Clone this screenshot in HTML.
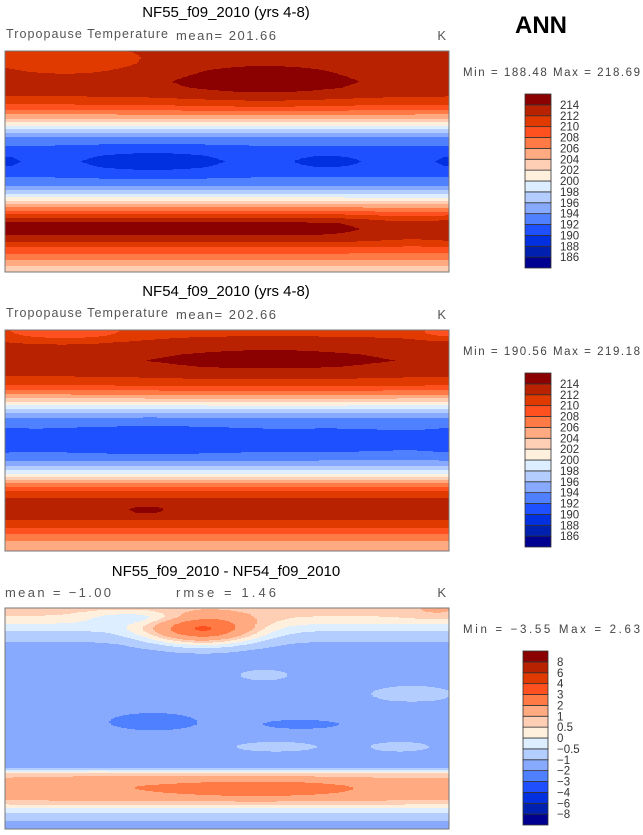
<!DOCTYPE html>
<html><head><meta charset="utf-8"><style>
body{margin:0;background:#fff;width:643px;height:835px;overflow:hidden;font-family:"Liberation Sans",sans-serif}
svg{position:absolute;left:0;top:0}
</style></head><body>
<svg id="fig" width="643" height="835" xmlns="http://www.w3.org/2000/svg">
<g font-family="Liberation Sans, sans-serif">
<text x="226" y="17" font-size="15" text-anchor="middle">NF55_f09_2010 (yrs 4-8)</text>
<text x="6" y="38" font-size="12.5" fill="#555" textLength="162">Tropopause Temperature</text>
<text x="176" y="40" font-size="13" fill="#555" textLength="100">mean= 201.66</text>
<text x="446" y="40" font-size="13" fill="#555" text-anchor="end">K</text>
<text x="541" y="33" font-size="24" font-weight="bold" text-anchor="middle">ANN</text>
<text x="463" y="76" font-size="11.5" fill="#444" textLength="177">Min = 188.48 Max = 218.69</text>

<text x="226" y="296" font-size="15" text-anchor="middle">NF54_f09_2010 (yrs 4-8)</text>
<text x="6" y="317" font-size="12.5" fill="#555" textLength="162">Tropopause Temperature</text>
<text x="176" y="319" font-size="13" fill="#555" textLength="100">mean= 202.66</text>
<text x="446" y="319" font-size="13" fill="#555" text-anchor="end">K</text>
<text x="463" y="355" font-size="11.5" fill="#444" textLength="177">Min = 190.56 Max = 219.18</text>

<text x="226" y="576" font-size="15" text-anchor="middle">NF55_f09_2010 - NF54_f09_2010</text>
<text x="5" y="597" font-size="13" fill="#555" textLength="106">mean =  −1.00</text>
<text x="176" y="597" font-size="13" fill="#555" textLength="100">rmse =   1.46</text>
<text x="446" y="597" font-size="13" fill="#555" text-anchor="end">K</text>
<text x="463" y="633" font-size="11.5" fill="#444" textLength="177">Min =  −3.55 Max =    2.63</text>
</g>
<g id="maps"></g>
</svg>
<script>
const COLORS=["#000090","#0020b0","#0030e0","#1e50ff","#4f80ff","#87aaff","#b4cdff","#dceeff","#fff0dd","#ffcfb5","#ffaa80","#ff7a45","#ff5020","#e03a00","#b82200","#8b0000"];
const tempLevels=[186,188,190,192,194,196,198,200,202,204,206,208,210,212,214];
const diffLevels=[-8,-6,-4,-3,-2,-1,-0.5,0,0.5,1,2,3,4,6,8];
const diffLabels=["-8","-6","-4","-3","-2","-1","-0.5","0","0.5","1","2","3","4","6","8"];
// zonal profiles, 90N to 90S every 5 deg
const profileLats=[90,85,80,75,70,65,60,55,50,45,40,35,30,25,20,15,10,5,0,-5,-10,-15,-20,-25,-30,-35,-40,-45,-50,-55,-60,-65,-70,-75,-80,-85,-90];
const profile1=[212.3,212.4,212.6,213,213.2,213.4,213.2,212.5,211.2,209.5,207,204,200.5,197,194,192.5,191.5,190.8,190.6,190.8,191.5,192.5,194,197,200.5,204.5,208,211.5,214.2,214.6,214,212.3,210,208,206,204,203];
const profile2=[211,211.5,212.5,213,213.4,213.6,213.3,212.5,211.5,210,207.5,204.5,201,197.5,194.5,193,192.2,191.6,191.4,191.6,192.3,193.5,195.5,198.5,202,206,209.5,211.5,212.8,213.3,213,212,210.5,208.5,206.5,205,204.5];
const profile3=[0.7,0.6,0.3,-0.2,-0.6,-0.9,-1.1,-1.2,-1.2,-1.1,-1.2,-1.3,-1.3,-1.3,-1.3,-1.3,-1.4,-1.5,-1.5,-1.5,-1.4,-1.3,-1.3,-1.3,-1.3,-1.4,-1.2,0.6,1.1,1.3,1.3,1.2,0.5,-0.3,-0.8,-1.1,-1.1];
// anomaly blobs: lon, lat, sigmaLon, sigmaLat, amplitude
const blobLon1=[211,50,120,262,0,360,330];
const blobLat1=[66,80,0,0,0,0,-52];
const blobSx1=[55,38,45,22,12,12,30];
const blobSy1=[16,7,9,5,6,6,10];
const blobAmp1=[1.6,-2.4,-1.4,-1.2,-0.9,-0.9,-1.6];
const blobLon2=[215,50,355,115,120,265,0,360];
const blobLat2=[66,87,88,-57,0,0,0,0];
const blobSx2=[75,40,15,14,55,25,12,12];
const blobSy2=[16,6,4,3,9,5,6,6];
const blobAmp2=[1.0,-2.2,-2,1.3,-1.1,-1.1,-0.8,-0.8];
const blobLon3=[160,205,70,120,240,210,330,220,320,350,110];
const blobLat3=[72,-57,-55,-3,-5,35,20,-23,-23,88,82];
const blobSx3=[30,60,50,28,32,14,25,25,18,20,30];
const blobSy3=[8,5,6,6,4,3,5,3,3,5,4];
const blobAmp3=[3.5,1.6,0.4,-1.1,-0.8,0.7,0.7,0.7,0.7,0.4,-1.0];

const NS="http://www.w3.org/2000/svg";
const maps=document.getElementById('maps');
function mk(tag,attrs,parent){const e=document.createElementNS(NS,tag);for(const k in attrs)e.setAttribute(k,attrs[k]);parent.appendChild(e);return e;}
function profileAt(p,lat){const f=(90-lat)/5;const i=Math.min(Math.floor(f),p.length-2);const t=f-i;return p[i]*(1-t)+p[i+1]*t;}
function fieldAt(p,B,lon,lat){let v=profileAt(p,lat);for(let k=0;k<B[0].length;k++){const dx=(lon-B[0][k])/B[2][k],dy=(lat-B[1][k])/B[3][k];v+=B[4][k]*Math.exp(-(dx*dx+dy*dy)/2);}return v;}
function levelIndex(levels,v){let n=0;for(const l of levels)if(v>=l)n++;return n;}
function drawMap(name,x0,y0,w,h,p,B,levels){
  const g=mk('g',{},maps);
  
  
  const cw=2;
  for(let y=0;y<h;y++){
    const lat=90-(y+0.5)/h*180;
    let start=0,cur=-1;
    for(let x=0;x<=w;x+=cw){
      let idx=-2;
      if(x<w){const lon=(x+cw/2)/w*360;idx=levelIndex(levels,fieldAt(p,B,lon,lat));}
      if(idx!==cur){
        if(cur>=0){const r=mk('rect',{x:x0+start,y:y0+y,width:x-start+0.5,height:1.2,fill:COLORS[cur]},g);
          
          }
        start=x;cur=idx;
      }
    }
  }
  const f=mk('rect',{x:x0,y:y0,width:w,height:h,fill:'none',stroke:'#777','stroke-width':1},g);
  
  
}
function drawBar(name,x0,y0,w,h,labels){
  const g=mk('g',{},maps);
  
  
  const bh=h/COLORS.length;
  for(let i=0;i<COLORS.length;i++){
    const r=mk('rect',{x:x0,y:y0+h-(i+1)*bh,width:w,height:bh,fill:COLORS[i],stroke:'#333','stroke-width':0.8},g);
    
    
  }
  for(let i=0;i<labels.length;i++){
    const t=mk('text',{x:x0+w+9,y:y0+h-(i+1)*bh+4,'font-size':11.5,fill:'#333','font-family':'Liberation Sans, sans-serif'},g);
    t.textContent=String(labels[i]).replace('-','−');
    
    
  }
}
drawMap('map-nf55',5,51,444,221,profile1,[blobLon1,blobLat1,blobSx1,blobSy1,blobAmp1],tempLevels);
drawMap('map-nf54',5,330,444,221,profile2,[blobLon2,blobLat2,blobSx2,blobSy2,blobAmp2],tempLevels);
drawMap('map-diff',5,608,444,221,profile3,[blobLon3,blobLat3,blobSx3,blobSy3,blobAmp3],diffLevels);
drawBar('colorbar-1',525,94,26,174,tempLevels);
drawBar('colorbar-2',525,373,26,174,tempLevels);
drawBar('colorbar-3',523,651,25,174,diffLabels);
</script>
</body></html>
